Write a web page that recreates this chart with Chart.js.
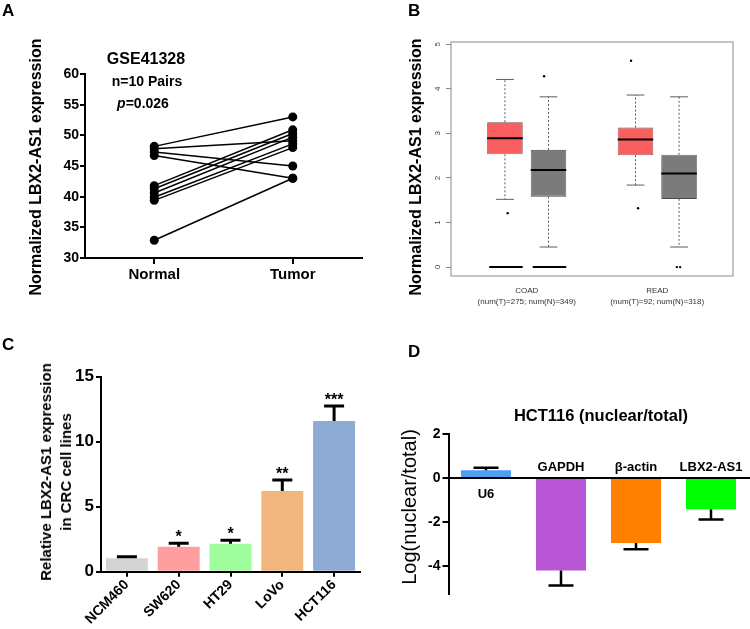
<!DOCTYPE html>
<html>
<head>
<meta charset="utf-8">
<title>LBX2-AS1 expression in CRC</title>
<style>
    body { margin: 0; background: #fff; font-family: "Liberation Sans", Arial, sans-serif; }
    #fig { position: relative; width: 750px; height: 629px; overflow: hidden; }
    canvas { position: absolute; }
    .txt { position: absolute; white-space: nowrap; color: #000; font-weight: bold; line-height: 1; }
    .ctr { transform: translate(-50%, -50%); text-align: center; }
    .rot { transform: translate(-50%, -50%) rotate(-90deg); text-align: center; }
</style>
</head>
<body>
<div id="fig">
    <canvas id="chartA" width="370" height="310" style="left:0;top:0"></canvas>
    <canvas id="chartB" width="375" height="310" style="left:375px;top:0"></canvas>
    <canvas id="chartC" width="370" height="299" style="left:0;top:330px"></canvas>
    <canvas id="chartD" width="375" height="299" style="left:375px;top:330px"></canvas>

    <div class="txt" style="left:2px;top:2px;font-size:17px">A</div>
    <div class="txt" style="left:408px;top:2px;font-size:17px">B</div>
    <div class="txt" style="left:2px;top:336px;font-size:17px">C</div>
    <div class="txt" style="left:408px;top:343px;font-size:17px">D</div>

    <div class="txt ctr" style="left:146px;top:59px;font-size:16px">GSE41328</div>
    <div class="txt ctr" style="left:147px;top:81px;font-size:14px">n=10 Pairs</div>
    <div class="txt ctr" style="left:143px;top:103px;font-size:14px"><i>p</i>=0.026</div>
    <div class="txt rot" style="left:36px;top:167px;font-size:16px">Normalized LBX2-AS1 expression</div>

    <div class="txt rot" style="left:416px;top:167px;font-size:16px">Normalized LBX2-AS1 expression</div>

    <div class="txt rot" style="left:56px;top:472px;font-size:15px;line-height:20px">Relative LBX2-AS1 expression<br>in CRC cell lines</div>

    <div class="txt ctr" style="left:601px;top:415px;font-size:16.5px">HCT116 (nuclear/total)</div>
    <div class="txt rot" style="left:409px;top:507px;font-size:20px;font-weight:normal">Log(nuclear/total)</div>
</div>

<script src="https://cdn.jsdelivr.net/npm/chart.js"></script>
<script>
    // ---- A: GSE41328 paired samples ----
    const pairLabels = ['Normal', 'Tumor'];
    const normalExpr = [48.2, 47.8, 47.3, 46.7, 41.8, 41.3, 40.6, 39.9, 39.4, 32.9];
    const tumorExpr  = [53.0, 49.1, 45.0, 43.0, 50.9, 50.3, 49.7, 48.6, 48.0, 43.0];

    // ---- B: GEPIA box plots (tumor / normal) ----
    const bGroups = [1, 2];
    const bGroupNames = ['COAD', 'READ'];
    const bGroupCounts = ['(num(T)=275; num(N)=349)', '(num(T)=92; num(N)=318)'];
    const tumorQ1 = [2.53, 2.51];
    const tumorMed = [2.89, 2.86];
    const tumorQ3 = [3.25, 3.13];
    const tumorLo = [1.52, 1.84];
    const tumorHi = [4.21, 3.86];
    const normalQ1 = [1.58, 1.53];
    const normalMed = [2.18, 2.10];
    const normalQ3 = [2.63, 2.52];
    const normalLo = [0.45, 0.45];
    const normalHi = [3.82, 3.82];
    const tumorZeroLine = [true, false];
    const normalZeroLine = [true, false];
    const outlierX = [0.854, 1.133, 1.799, 1.853, 2.15, 2.175];
    const outlierY = [1.21, 4.28, 4.63, 1.32, 0, 0];
    const bTicks = [0, 1, 2, 3, 4, 5];

    // ---- C: cell lines ----
    const cellLines = ['NCM460', 'SW620', 'HT29', 'LoVo', 'HCT116'];
    const cellExpr = [1.03, 1.92, 2.15, 6.2, 11.6];
    const cellErr = [0.12, 0.26, 0.26, 0.85, 1.14];
    const cellSig = ['', '*', '*', '**', '***'];
    const cellColors = ['#d4d4d4', '#ff9e9e', '#a0fd9d', '#f0b67e', '#8eabd3'];

    // ---- D: nuclear / total fractionation ----
    const fracGenes = ['U6', 'GAPDH', 'β-actin', 'LBX2-AS1'];
    const fracLog = [0.35, -4.2, -2.96, -1.42];
    const fracErr = [0.12, 0.69, 0.28, 0.47];
    const fracColors = ['#4d9ff4', '#b856d6', '#ff8000', '#00ff00'];
    const fracTicks = [2, 0, -2, -4];

    Chart.defaults.font.family = '"Liberation Sans", Arial, sans-serif';
    Chart.defaults.color = '#000';
    Chart.defaults.animation = false;
    Chart.defaults.responsive = false;
    Chart.defaults.plugins.legend.display = false;
    Chart.defaults.plugins.tooltip.enabled = false;

    const fixW = w => s => { s.width = w; };
    const fixH = h => s => { s.height = h; };
    const bold = size => ({ size: size, weight: 'bold' });

    function errorBars(err, capHalf, lineW, stars) {
        return {
            id: 'errorBars',
            afterDatasetsDraw(chart) {
                const ctx = chart.ctx;
                const y = chart.scales.y;
                const vals = chart.data.datasets[0].data;
                ctx.save();
                ctx.strokeStyle = '#000';
                ctx.lineWidth = lineW;
                chart.getDatasetMeta(0).data.forEach((bar, i) => {
                    const v = vals[i];
                    const end = v >= 0 ? v + err[i] : v - err[i];
                    const y0 = y.getPixelForValue(v);
                    const y1 = y.getPixelForValue(end);
                    ctx.beginPath();
                    ctx.moveTo(bar.x, y0);
                    ctx.lineTo(bar.x, y1);
                    ctx.moveTo(bar.x - capHalf, y1);
                    ctx.lineTo(bar.x + capHalf, y1);
                    ctx.stroke();
                    if (stars && stars[i]) {
                        ctx.fillStyle = '#000';
                        ctx.font = 'bold 16px "Liberation Sans", Arial, sans-serif';
                        ctx.textAlign = 'center';
                        ctx.textBaseline = 'alphabetic';
                        ctx.fillText(stars[i], bar.x, y1 - 1);
                    }
                });
                ctx.restore();
            }
        };
    }

    // ---------- A ----------
    new Chart(document.getElementById('chartA'), {
        type: 'line',
        data: {
            labels: pairLabels,
            datasets: normalExpr.map((n, i) => ({
                data: [n, tumorExpr[i]],
                borderColor: '#000',
                borderWidth: 1.5,
                backgroundColor: '#000',
                pointRadius: 4.5,
                pointBackgroundColor: '#000',
                pointBorderWidth: 0,
                clip: false
            }))
        },
        options: {
            layout: { padding: { left: 0, top: 74, right: 8, bottom: 0 } },
            scales: {
                x: {
                    offset: true,
                    afterFit: fixH(52),
                    grid: { drawOnChartArea: false, tickLength: 6, color: '#000', lineWidth: 2 },
                    border: { color: '#000', width: 2 },
                    ticks: { font: bold(15), padding: 2 }
                },
                y: {
                    min: 30, max: 60,
                    afterFit: fixW(85),
                    grid: { drawOnChartArea: false, tickLength: 5, color: '#000', lineWidth: 2 },
                    border: { color: '#000', width: 2 },
                    ticks: { stepSize: 5, font: bold(14), padding: 1 }
                }
            }
        }
    });

    // ---------- B ----------
    const boxPlugin = {
        id: 'boxParts',
        afterDatasetsDraw(chart) {
            const ctx = chart.ctx;
            const y = chart.scales.y;
            const area = chart.chartArea;
            const sets = [
                { meta: chart.getDatasetMeta(0), med: tumorMed, lo: tumorLo, hi: tumorHi, q1: tumorQ1, q3: tumorQ3, zero: tumorZeroLine },
                { meta: chart.getDatasetMeta(1), med: normalMed, lo: normalLo, hi: normalHi, q1: normalQ1, q3: normalQ3, zero: normalZeroLine }
            ];
            ctx.save();
            sets.forEach(s => {
                s.meta.data.forEach((bar, i) => {
                    const half = bar.width / 2;
                    // dashed whiskers and caps
                    ctx.strokeStyle = '#333';
                    ctx.lineWidth = 0.8;
                    ctx.setLineDash([2, 2]);
                    ctx.beginPath();
                    ctx.moveTo(bar.x, y.getPixelForValue(s.q3[i]));
                    ctx.lineTo(bar.x, y.getPixelForValue(s.hi[i]));
                    ctx.moveTo(bar.x, y.getPixelForValue(s.q1[i]));
                    ctx.lineTo(bar.x, y.getPixelForValue(s.lo[i]));
                    ctx.stroke();
                    ctx.setLineDash([]);
                    ctx.beginPath();
                    ctx.moveTo(bar.x - half / 2, y.getPixelForValue(s.hi[i]));
                    ctx.lineTo(bar.x + half / 2, y.getPixelForValue(s.hi[i]));
                    ctx.moveTo(bar.x - half / 2, y.getPixelForValue(s.lo[i]));
                    ctx.lineTo(bar.x + half / 2, y.getPixelForValue(s.lo[i]));
                    ctx.stroke();
                    // median
                    ctx.strokeStyle = '#000';
                    ctx.lineWidth = 2;
                    ctx.beginPath();
                    ctx.moveTo(bar.x - half, y.getPixelForValue(s.med[i]));
                    ctx.lineTo(bar.x + half, y.getPixelForValue(s.med[i]));
                    ctx.stroke();
                    if (s.zero[i]) {
                        ctx.beginPath();
                        ctx.moveTo(bar.x - half + 2, y.getPixelForValue(0));
                        ctx.lineTo(bar.x + half, y.getPixelForValue(0));
                        ctx.stroke();
                    }
                });
            });
            // frame
            ctx.strokeStyle = '#8a8a8a';
            ctx.lineWidth = 1;
            ctx.strokeRect(area.left, area.top, area.right - area.left, area.bottom - area.top);
            // rotated y tick labels
            ctx.fillStyle = '#444';
            ctx.font = '8px "Liberation Sans", Arial, sans-serif';
            ctx.textAlign = 'center';
            ctx.textBaseline = 'middle';
            bTicks.forEach(v => {
                ctx.save();
                ctx.translate(area.left - 13, y.getPixelForValue(v));
                ctx.rotate(-Math.PI / 2);
                ctx.fillText(String(v), 0, 0);
                ctx.restore();
            });
            ctx.restore();
        }
    };

    new Chart(document.getElementById('chartB'), {
        type: 'bar',
        data: {
            datasets: [
                {
                    data: bGroups.map((g, i) => ({ x: g, y: [tumorQ1[i], tumorQ3[i]] })),
                    backgroundColor: '#fa5f5f',
                    borderColor: '#6e4a4a',
                    borderWidth: 0.8,
                    borderSkipped: false
                },
                {
                    data: bGroups.map((g, i) => ({ x: g, y: [normalQ1[i], normalQ3[i]] })),
                    backgroundColor: '#7b7b7b',
                    borderColor: '#4a4a4a',
                    borderWidth: 0.8,
                    borderSkipped: false
                },
                {
                    type: 'scatter',
                    data: outlierX.map((x, i) => ({ x: x, y: outlierY[i] })),
                    pointRadius: 1.2,
                    pointBackgroundColor: '#000',
                    pointBorderWidth: 0
                }
            ]
        },
        options: {
            categoryPercentage: 0.667,
            barPercentage: 0.816,
            layout: { padding: { left: 0, top: 42, right: 17, bottom: 0 } },
            scales: {
                x: {
                    type: 'linear',
                    offset: false,
                    min: 0.42, max: 2.58,
                    afterFit: fixH(34),
                    afterBuildTicks: s => { s.ticks = bGroups.map(v => ({ value: v })); },
                    grid: { display: false, offset: false },
                    border: { display: false },
                    ticks: {
                        font: { size: 8, lineHeight: 1.4 },
                        color: '#333',
                        padding: 1,
                        callback: v => [bGroupNames[v - 1], bGroupCounts[v - 1]]
                    }
                },
                y: {
                    min: -0.2, max: 5.05,
                    afterFit: fixW(76),
                    afterBuildTicks: s => { s.ticks = bTicks.map(v => ({ value: v })); },
                    grid: { drawOnChartArea: false, tickLength: 5, color: '#8a8a8a', lineWidth: 1 },
                    border: { display: false },
                    ticks: { display: false }
                }
            }
        },
        plugins: [boxPlugin]
    });

    // ---------- C ----------
    new Chart(document.getElementById('chartC'), {
        type: 'bar',
        data: {
            labels: cellLines,
            datasets: [{
                data: cellExpr,
                backgroundColor: cellColors,
                barPercentage: 0.81,
                categoryPercentage: 1
            }]
        },
        options: {
            layout: { padding: { left: 0, top: 46.7, right: 10, bottom: 0 } },
            scales: {
                x: {
                    afterFit: fixH(57.3),
                    grid: { offset: false, drawOnChartArea: false, tickLength: 5, color: '#000', lineWidth: 2 },
                    border: { color: '#000', width: 2 },
                    ticks: { font: bold(14), minRotation: 45, maxRotation: 45, padding: 0 }
                },
                y: {
                    min: 0, max: 15,
                    afterFit: fixW(101),
                    grid: { drawOnChartArea: false, tickLength: 5, color: '#000', lineWidth: 2 },
                    border: { color: '#000', width: 2 },
                    ticks: { stepSize: 5, font: bold(17), padding: 2 }
                }
            }
        },
        plugins: [errorBars(cellErr, 10, 3, cellSig)]
    });

    // ---------- D ----------
    const geneLabels = {
        id: 'geneLabels',
        afterDatasetsDraw(chart) {
            const ctx = chart.ctx;
            const y0 = chart.scales.y.getPixelForValue(0);
            const area = chart.chartArea;
            ctx.save();
            ctx.strokeStyle = '#000';
            ctx.lineWidth = 2;
            ctx.beginPath();
            ctx.moveTo(area.left, y0);
            ctx.lineTo(area.right + 2, y0);
            ctx.stroke();
            ctx.fillStyle = '#000';
            ctx.font = 'bold 13px "Liberation Sans", Arial, sans-serif';
            ctx.textAlign = 'center';
            ctx.textBaseline = 'middle';
            chart.getDatasetMeta(0).data.forEach((bar, i) => {
                ctx.fillText(fracGenes[i], bar.x, fracLog[i] >= 0 ? y0 + 16 : y0 - 11);
            });
            ctx.restore();
        }
    };

    new Chart(document.getElementById('chartD'), {
        type: 'bar',
        data: {
            labels: fracGenes,
            datasets: [{
                data: fracLog,
                backgroundColor: fracColors,
                barPercentage: 0.667,
                categoryPercentage: 1
            }]
        },
        options: {
            layout: { padding: { left: 0, top: 104, right: 1.5, bottom: 35.5 } },
            scales: {
                x: { display: false },
                y: {
                    min: -5.25, max: 2,
                    afterFit: fixW(73.5),
                    afterBuildTicks: s => { s.ticks = fracTicks.map(v => ({ value: v })); },
                    grid: { drawOnChartArea: false, tickLength: 6, color: '#000', lineWidth: 2 },
                    border: { color: '#000', width: 2 },
                    ticks: { font: bold(14), padding: 2 }
                }
            }
        },
        plugins: [errorBars(fracErr, 12.5, 2.5), geneLabels]
    });
</script>
</body>
</html>
